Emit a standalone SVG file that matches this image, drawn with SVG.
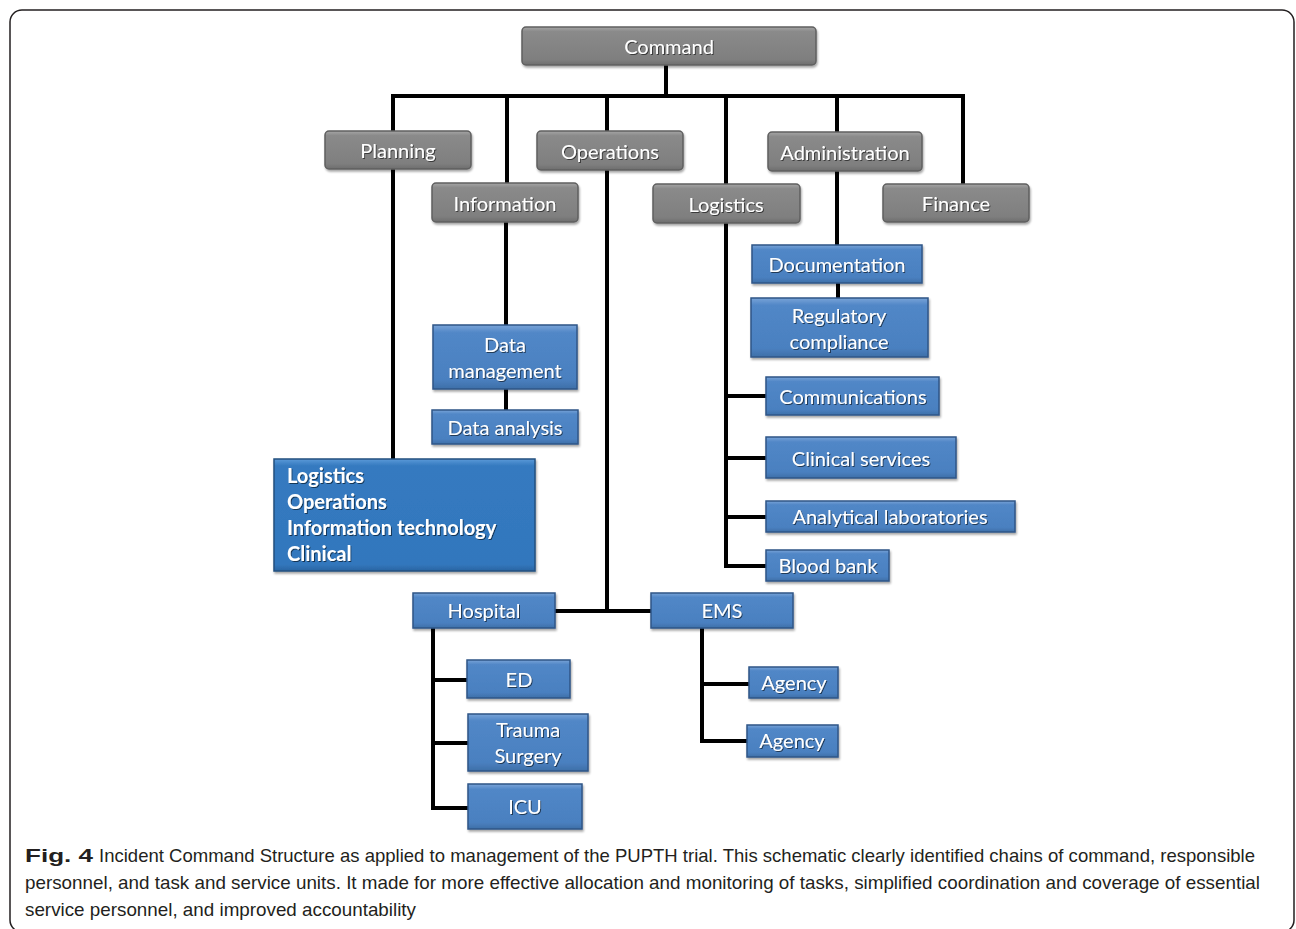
<svg xmlns="http://www.w3.org/2000/svg" width="1296" height="929" viewBox="0 0 1296 929">
<defs>
<linearGradient id="gg" x1="0" y1="0" x2="0" y2="1">
<stop offset="0" stop-color="#a6a6a6"/><stop offset="0.12" stop-color="#8a8a8a"/><stop offset="0.85" stop-color="#7f7f7f"/><stop offset="1" stop-color="#6e6e6e"/>
</linearGradient>
<linearGradient id="bg" x1="0" y1="0" x2="0" y2="1">
<stop offset="0" stop-color="#7aa4d8"/><stop offset="0.12" stop-color="#5187c7"/><stop offset="0.85" stop-color="#4a80c0"/><stop offset="1" stop-color="#3e6fa8"/>
</linearGradient>
<linearGradient id="bg2" x1="0" y1="0" x2="0" y2="1">
<stop offset="0" stop-color="#5a9ad8"/><stop offset="0.06" stop-color="#357ac0"/><stop offset="0.94" stop-color="#3277bd"/><stop offset="1" stop-color="#2a65a2"/>
</linearGradient>
<filter id="ts" x="-5%" y="-20%" width="110%" height="140%">
<feDropShadow dx="1" dy="1" stdDeviation="0.6" flood-color="#000" flood-opacity="0.55"/>
</filter>
<filter id="bs" x="-5%" y="-10%" width="110%" height="130%">
<feDropShadow dx="1" dy="2" stdDeviation="1.2" flood-color="#000" flood-opacity="0.35"/>
</filter>
</defs>
<style>
.g{fill:url(#gg);stroke:#5f5f5f;stroke-width:1.5}
.b{fill:url(#bg);stroke:#2f5687;stroke-width:1.5}
.bb{fill:url(#bg2);stroke:#24507f;stroke-width:1.5}
.t{font-family:Lato,"Open Sans",sans-serif;font-size:20px;fill:#fff;text-anchor:middle;filter:url(#ts)}
.tl{font-family:Lato,"Open Sans",sans-serif;font-size:20px;fill:#fff;font-weight:bold;filter:url(#ts)}
.c{fill:none;stroke:#000;stroke-width:4;stroke-linejoin:miter;stroke-linecap:square}
.cap{font-family:"Liberation Sans",Arial,sans-serif;font-size:19px;fill:#231f20}
</style>
<rect x="10" y="10" width="1284" height="922" rx="12" fill="#fff" stroke="#231f20" stroke-width="1.5"/>
<g id="connectors">
<path class="c" d="M666 66V96M393 96H963M393 96V460M507 96V183M607 96V131M726 96V184M837 96V132M963 96V184"/>
<path class="c" d="M506 222V325M506 389V410"/>
<path class="c" d="M607 170V611M555 611H651"/>
<path class="c" d="M837 171V245M838 283V298"/>
<path class="c" d="M726 223V566H766M726 396H766M726 458H766M726 517H766"/>
<path class="c" d="M433 628V808H468M433 680H467M433 743H468"/>
<path class="c" d="M702 628V741H747M702 684H749"/>
</g>
<g id="command" filter="url(#bs)"><rect class="g" x="522" y="27" width="294" height="38" rx="4"/><text class="t" x="669" y="54">Command</text></g>
<g id="planning" filter="url(#bs)"><rect class="g" x="325" y="131" width="146" height="38" rx="4"/><text class="t" x="398" y="158">Planning</text></g>
<g id="operations" filter="url(#bs)"><rect class="g" x="537" y="131" width="146" height="39" rx="4"/><text class="t" x="610" y="159">Operations</text></g>
<g id="administration" filter="url(#bs)"><rect class="g" x="768" y="132" width="154" height="39" rx="4"/><text class="t" x="845" y="160">Administration</text></g>
<g id="information" filter="url(#bs)"><rect class="g" x="432" y="183" width="146" height="39" rx="4"/><text class="t" x="505" y="211">Information</text></g>
<g id="logistics" filter="url(#bs)"><rect class="g" x="653" y="184" width="147" height="39" rx="4"/><text class="t" x="726" y="212">Logistics</text></g>
<g id="finance" filter="url(#bs)"><rect class="g" x="883" y="184" width="146" height="38" rx="4"/><text class="t" x="956" y="211">Finance</text></g>
<g id="documentation" filter="url(#bs)"><rect class="b" x="752" y="245" width="170" height="38"/><text class="t" x="837" y="272">Documentation</text></g>
<g id="regulatory" filter="url(#bs)"><rect class="b" x="751" y="298" width="177" height="59"/><text class="t" x="839" y="323">Regulatory</text><text class="t" x="839" y="349">compliance</text></g>
<g id="communications" filter="url(#bs)"><rect class="b" x="766" y="377" width="173" height="38"/><text class="t" x="853" y="404">Communications</text></g>
<g id="clinical-services" filter="url(#bs)"><rect class="b" x="766" y="437" width="190" height="41"/><text class="t" x="861" y="466">Clinical services</text></g>
<g id="analytical" filter="url(#bs)"><rect class="b" x="766" y="501" width="249" height="31"/><text class="t" x="890" y="524">Analytical laboratories</text></g>
<g id="blood-bank" filter="url(#bs)"><rect class="b" x="766" y="550" width="123" height="31"/><text class="t" x="828" y="573">Blood bank</text></g>
<g id="data-management" filter="url(#bs)"><rect class="b" x="433" y="325" width="144" height="64"/><text class="t" x="505" y="352">Data</text><text class="t" x="505" y="378">management</text></g>
<g id="data-analysis" filter="url(#bs)"><rect class="b" x="432" y="410" width="146" height="34"/><text class="t" x="505" y="435">Data analysis</text></g>
<g id="planning-units" filter="url(#bs)"><rect class="bb" x="274" y="459" width="261" height="112"/>
<text class="tl" x="287" y="483">Logistics</text><text class="tl" x="287" y="509">Operations</text><text class="tl" x="287" y="535">Information technology</text><text class="tl" x="287" y="561">Clinical</text></g>
<g id="hospital" filter="url(#bs)"><rect class="b" x="413" y="593" width="142" height="35"/><text class="t" x="484" y="618">Hospital</text></g>
<g id="ems" filter="url(#bs)"><rect class="b" x="651" y="593" width="142" height="35"/><text class="t" x="722" y="618">EMS</text></g>
<g id="ed" filter="url(#bs)"><rect class="b" x="467" y="660" width="103" height="38"/><text class="t" x="519" y="687">ED</text></g>
<g id="trauma" filter="url(#bs)"><rect class="b" x="468" y="714" width="120" height="57"/><text class="t" x="528" y="737">Trauma</text><text class="t" x="528" y="763">Surgery</text></g>
<g id="icu" filter="url(#bs)"><rect class="b" x="468" y="784" width="114" height="45"/><text class="t" x="525" y="814">ICU</text></g>
<g id="agency1" filter="url(#bs)"><rect class="b" x="749" y="667" width="89" height="31"/><text class="t" x="794" y="690">Agency</text></g>
<g id="agency2" filter="url(#bs)"><rect class="b" x="747" y="725" width="91" height="32"/><text class="t" x="792" y="748">Agency</text></g>
<g id="caption">
<text class="cap" x="25" y="862" font-weight="bold" textLength="68" lengthAdjust="spacingAndGlyphs">Fig. 4</text>
<text class="cap" x="99" y="862" textLength="1156" lengthAdjust="spacingAndGlyphs">Incident Command Structure as applied to management of the PUPTH trial. This schematic clearly identified chains of command, responsible</text>
<text class="cap" x="25" y="889" textLength="1235" lengthAdjust="spacingAndGlyphs">personnel, and task and service units. It made for more effective allocation and monitoring of tasks, simplified coordination and coverage of essential</text>
<text class="cap" x="25" y="916" textLength="391" lengthAdjust="spacingAndGlyphs">service personnel, and improved accountability</text>
</g>
</svg>
